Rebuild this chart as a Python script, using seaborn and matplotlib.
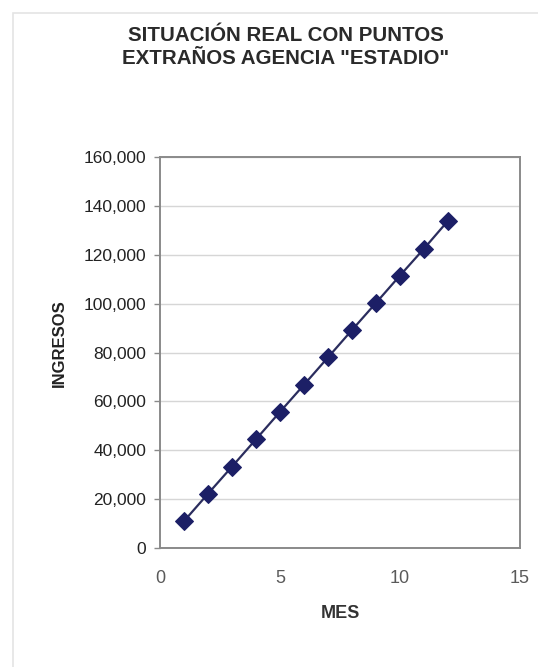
import matplotlib
matplotlib.use("Agg")
import matplotlib.pyplot as plt
from matplotlib.patches import Rectangle
from matplotlib.ticker import FuncFormatter, MultipleLocator
import seaborn as sns
import pandas as pd

# Monthly revenue for the "Estadio" agency
mes = [1, 2, 3, 4, 5, 6, 7, 8, 9, 10, 11, 12]
ingresos = [11000, 22200, 33300, 44500, 55700, 66800, 78000, 89200,
            100300, 111500, 122500, 133900]

titulo = 'SITUACIÓN REAL CON PUNTOS\nEXTRAÑOS AGENCIA "ESTADIO"'
etiqueta_x = "MES"
etiqueta_y = "INGRESOS"

df = pd.DataFrame({"MES": mes, "INGRESOS": ingresos})

sns.set_theme(style="white")
plt.rcParams["font.family"] = ["Liberation Sans", "DejaVu Sans"]

W, H, DPI = 538, 667, 100
fig = plt.figure(figsize=(W / DPI, H / DPI), dpi=DPI)
fig.patch.set_facecolor("white")

# light chart-area frame
fig.patches.append(Rectangle((13 / W, -0.02), 1.05, 1 - 13 / H + 0.02,
                             transform=fig.transFigure, fill=False,
                             edgecolor="#e4e4e4", linewidth=1.2, zorder=0))

L, R, T, B = 160, 520, 157, 548
ax = fig.add_axes([L / W, 1 - B / H, (R - L) / W, (B - T) / H])
ax.set_facecolor("white")

sns.lineplot(data=df, x="MES", y="INGRESOS", ax=ax, color="#2b2d5e",
             linewidth=1.6, marker="D", markersize=9.5,
             markerfacecolor="#1c1f66", markeredgecolor="#1c1f66",
             zorder=3)

ax.set_xlim(0, 15)
ax.set_ylim(0, 160000)
ax.xaxis.set_major_locator(MultipleLocator(5))
ax.yaxis.set_major_locator(MultipleLocator(20000))
ax.yaxis.set_major_formatter(FuncFormatter(lambda v, p: f"{int(v):,}"))

ax.grid(axis="y", color="#d6d6d6", linewidth=1.0)
ax.grid(axis="x", visible=False)
for s in ax.spines.values():
    s.set_color("#8a8a8a")
    s.set_linewidth(1.4)

ax.tick_params(axis="y", which="major", left=True, length=4, width=1,
               color="#8a8a8a", labelsize=12.5, labelcolor="#222222", pad=6)
ax.tick_params(axis="x", which="major", bottom=True, length=0,
               labelsize=13, labelcolor="#5a5a5a", pad=16)

ax.set_xlabel(etiqueta_x, fontsize=13, fontweight="bold", color="#333333")
ax.set_ylabel(etiqueta_y, fontsize=12, fontweight="bold", color="#222222")
ax.xaxis.set_label_coords((340 - L) / (R - L), (B - 614) / (B - T))
ax.xaxis.label.set_va("center")
ax.yaxis.set_label_coords((59 - L) / (R - L), (B - 343) / (B - T))
ax.yaxis.label.set_va("center")

fig.text(286 / W, 1 - 47 / H, titulo, ha="center", va="center",
         fontsize=14.8, fontweight="bold", color="#2a2a2a", linespacing=1.3)

fig.savefig("out.png", dpi=DPI, facecolor="white")
